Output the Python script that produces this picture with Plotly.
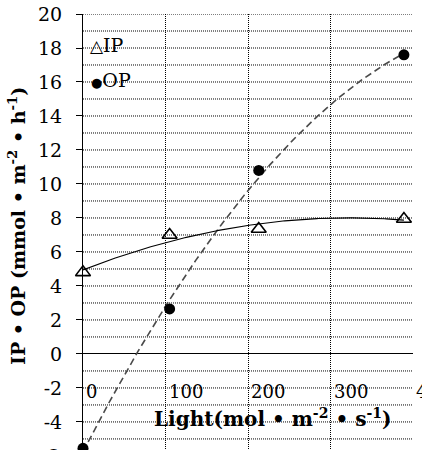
import numpy as np
import plotly.graph_objects as go

# ---- data ----
light = [0, 105, 213, 389]
ip_vals = [4.8, 7.0, 7.35, 7.94]
op_vals = [-5.55, 2.65, 10.8, 17.6]
y_ticks = [-4, -2, 0, 2, 4, 6, 8, 10, 12, 14, 16, 18, 20]
y_tick_text = ["-4", "-2", "0", "2", "4", "6", "8", "10", "12", "14", "16", "18", "20"]
x_tick_vals = [0, 100, 200, 300, 400]
x_tick_text = ["0", "100", "200", "300", "4"]

FONT = "DejaVu Serif"
Y0, Y1 = -5.65, 20.0
L, R, T = 83, 9, 14
W, H = 422, 450
PW = W - L - R
PH = H - T

# quadratic trend lines (like spreadsheet polynomial trendlines)
xs = np.linspace(min(light), max(light), 200)
ip_fit = np.polyval(np.polyfit(light, ip_vals, 2), xs)
op_fit = np.polyval(np.polyfit(light, op_vals, 2), xs)

fig = go.Figure()
fig.add_trace(go.Scatter(x=xs, y=op_fit, mode="lines",
                         line=dict(color="#4a4a4a", width=1.6, dash="7px,4px"),
                         hoverinfo="skip", showlegend=False))
fig.add_trace(go.Scatter(x=xs, y=ip_fit, mode="lines",
                         line=dict(color="black", width=1.1),
                         hoverinfo="skip", showlegend=False))
fig.add_trace(go.Scatter(x=light, y=ip_vals, mode="markers", name="IP",
                         marker=dict(symbol="triangle-up-open", size=13,
                                     color="black", line=dict(width=1.6)),
                         cliponaxis=False, showlegend=False))
fig.add_trace(go.Scatter(x=light, y=op_vals, mode="markers", name="OP",
                         marker=dict(symbol="circle", size=11, color="black"),
                         cliponaxis=False, showlegend=False))


def px_x(p):
    return (p - L) / PW


def px_y(p):
    return 1 - (p - T) / PH


annotations = []
# x tick labels (placed low, left-aligned at gridlines)
for v, t in zip(x_tick_vals, x_tick_text):
    annotations.append(dict(x=v, y=-2.2, xref="x", yref="y", text=t,
                            showarrow=False, xanchor="left", yanchor="middle",
                            xshift=1, font=dict(family=FONT, size=18, color="black")))
# -6 label (partly cut off at bottom)
annotations.append(dict(x=px_x(61), y=(-6 - Y0) / (Y1 - Y0), xref="paper", yref="paper",
                        text="-6", showarrow=False, xanchor="right", yanchor="middle",
                        font=dict(family=FONT, size=19, color="black")))
# x axis title
annotations.append(dict(x=px_x(272), y=-3.75, xref="paper", yref="y",
                        text="<b>Light(mol • m<sup>-2</sup> • s<sup>-1</sup>)</b>",
                        showarrow=False, xanchor="center", yanchor="middle",
                        font=dict(family=FONT, size=20, color="black")))
# y axis title
annotations.append(dict(x=px_x(17), y=px_y(226), xref="paper", yref="paper",
                        text="<b>IP • OP (mmol • m<sup>-2</sup> • h<sup>-1</sup>)</b>",
                        textangle=-90, showarrow=False, xanchor="center", yanchor="middle",
                        font=dict(family=FONT, size=19, color="black")))
# legend
annotations.append(dict(x=6, y=18.2, xref="x", yref="y",
                        text="<span style='font-size:17px'>△</span>IP",
                        showarrow=False, xanchor="left", yanchor="middle",
                        font=dict(family=FONT, size=19, color="black")))
annotations.append(dict(x=7, y=16.1, xref="x", yref="y",
                        text="<span style='font-size:13px'>●</span>OP",
                        showarrow=False, xanchor="left", yanchor="middle",
                        font=dict(family=FONT, size=19, color="black")))

fig.update_layout(
    width=W, height=H,
    margin=dict(l=L, r=R, t=T, b=0),
    paper_bgcolor="white", plot_bgcolor="white",
    annotations=annotations,
    xaxis=dict(range=[0, 400], tickvals=[100, 200, 300, 400], showticklabels=False,
               showgrid=True, gridcolor="black", gridwidth=1, griddash="1px,1px",
               zeroline=False, showline=False, ticks=""),
    yaxis=dict(range=[Y0, Y1], tickvals=y_ticks, ticktext=y_tick_text,
               ticks="outside", ticklen=6,
               tickcolor="black", tickwidth=1, ticklabelstandoff=10,
               tickfont=dict(family=FONT, size=19, color="black"),
               showgrid=False, zeroline=True, zerolinecolor="black", zerolinewidth=1,
               showline=True, linecolor="black", linewidth=1),
    shapes=[dict(type="line", xref="paper", yref="y", x0=0, x1=1, y0=v, y1=v,
                 line=dict(color="black", width=1, dash="1px,1px"), layer="below")
            for v in range(-5, 21) if v != 0],
)

fig.write_html("out.html")
